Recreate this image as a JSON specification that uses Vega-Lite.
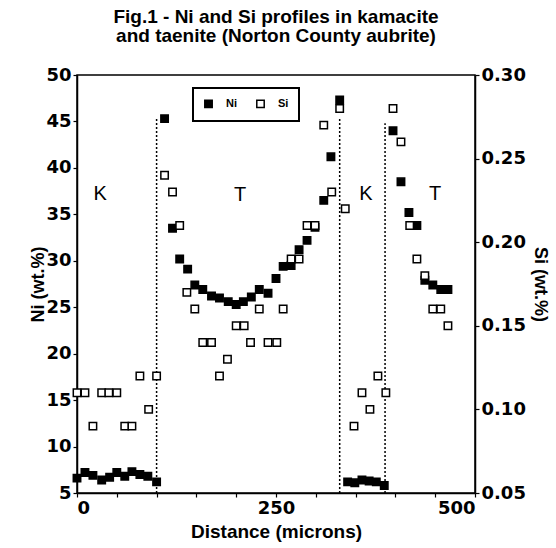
{
  "$schema": "https://vega.github.io/schema/vega-lite/v6.json",
  "width": 398,
  "height": 418,
  "autosize": "none",
  "padding": {"left": 77, "top": 75, "right": 81, "bottom": 55},
  "background": "white",
  "title": {
    "text": ["Fig.1 -  Ni and Si profiles in kamacite", "and taenite (Norton County aubrite)"],
    "font": "Liberation Sans",
    "fontSize": 19,
    "fontWeight": "bold",
    "anchor": "middle",
    "lineHeight": 19,
    "offset": 20,
    "color": "black"
  },
  "config": {
    "view": {"stroke": "black", "strokeWidth": 1.5},
    "axis": {
      "grid": false,
      "domainColor": "black",
      "domainWidth": 1.5,
      "tickColor": "black",
      "tickWidth": 1.2,
      "tickSize": 4,
      "labelFont": "DejaVu Sans",
      "labelFontWeight": "bold",
      "labelFontSize": 18,
      "labelColor": "black",
      "titleFont": "Liberation Sans",
      "titleFontWeight": "bold",
      "titleFontSize": 18,
      "titleColor": "black"
    },
    "legend": {
      "strokeColor": "black",
      "strokeWidth": 2,
      "fillColor": "white",
      "padding": 10,
      "labelFont": "Liberation Sans",
      "labelFontWeight": "bold",
      "labelFontSize": 11,
      "labelColor": "black",
      "symbolType": "square",
      "symbolSize": 55,
      "symbolStrokeColor": "black",
      "symbolStrokeWidth": 1.5,
      "labelOffset": 12,
      "columnPadding": 16
    }
  },
  "datasets": {
    "pts": [
      {"d": 0, "el": "Ni", "v": 6.6}, {"d": 10, "el": "Ni", "v": 7.2}, {"d": 20, "el": "Ni", "v": 6.9},
      {"d": 31, "el": "Ni", "v": 6.4}, {"d": 41, "el": "Ni", "v": 6.7}, {"d": 50, "el": "Ni", "v": 7.2},
      {"d": 60, "el": "Ni", "v": 6.8}, {"d": 69, "el": "Ni", "v": 7.3}, {"d": 79, "el": "Ni", "v": 7.0},
      {"d": 89, "el": "Ni", "v": 6.8}, {"d": 100, "el": "Ni", "v": 6.2},
      {"d": 110, "el": "Ni", "v": 45.3}, {"d": 120, "el": "Ni", "v": 33.5}, {"d": 129, "el": "Ni", "v": 30.2},
      {"d": 139, "el": "Ni", "v": 29.1}, {"d": 148, "el": "Ni", "v": 27.4}, {"d": 158, "el": "Ni", "v": 26.9},
      {"d": 169, "el": "Ni", "v": 26.2}, {"d": 179, "el": "Ni", "v": 26.0}, {"d": 190, "el": "Ni", "v": 25.6},
      {"d": 200, "el": "Ni", "v": 25.3}, {"d": 209, "el": "Ni", "v": 25.6}, {"d": 219, "el": "Ni", "v": 26.1},
      {"d": 229, "el": "Ni", "v": 26.9}, {"d": 240, "el": "Ni", "v": 26.5}, {"d": 250, "el": "Ni", "v": 28.1},
      {"d": 259, "el": "Ni", "v": 29.4}, {"d": 269, "el": "Ni", "v": 29.5}, {"d": 279, "el": "Ni", "v": 31.2},
      {"d": 289, "el": "Ni", "v": 32.2}, {"d": 299, "el": "Ni", "v": 33.6}, {"d": 310, "el": "Ni", "v": 36.5},
      {"d": 319, "el": "Ni", "v": 41.2}, {"d": 330, "el": "Ni", "v": 47.3},
      {"d": 340, "el": "Ni", "v": 6.2}, {"d": 349, "el": "Ni", "v": 6.1}, {"d": 358, "el": "Ni", "v": 6.4},
      {"d": 367, "el": "Ni", "v": 6.3}, {"d": 376, "el": "Ni", "v": 6.2}, {"d": 386, "el": "Ni", "v": 5.8},
      {"d": 397, "el": "Ni", "v": 44.0}, {"d": 407, "el": "Ni", "v": 38.5}, {"d": 417, "el": "Ni", "v": 35.2},
      {"d": 427, "el": "Ni", "v": 33.8}, {"d": 437, "el": "Ni", "v": 27.9}, {"d": 447, "el": "Ni", "v": 27.4},
      {"d": 457, "el": "Ni", "v": 26.9}, {"d": 466, "el": "Ni", "v": 26.9},
      {"d": 0, "el": "Si", "v": 0.11}, {"d": 10, "el": "Si", "v": 0.11}, {"d": 20, "el": "Si", "v": 0.09},
      {"d": 31, "el": "Si", "v": 0.11}, {"d": 40, "el": "Si", "v": 0.11}, {"d": 50, "el": "Si", "v": 0.11},
      {"d": 60, "el": "Si", "v": 0.09}, {"d": 69, "el": "Si", "v": 0.09}, {"d": 79, "el": "Si", "v": 0.12},
      {"d": 90, "el": "Si", "v": 0.10}, {"d": 100, "el": "Si", "v": 0.12},
      {"d": 110, "el": "Si", "v": 0.24}, {"d": 120, "el": "Si", "v": 0.23}, {"d": 129, "el": "Si", "v": 0.21},
      {"d": 138, "el": "Si", "v": 0.17}, {"d": 148, "el": "Si", "v": 0.16}, {"d": 158, "el": "Si", "v": 0.14},
      {"d": 169, "el": "Si", "v": 0.14}, {"d": 179, "el": "Si", "v": 0.12}, {"d": 189, "el": "Si", "v": 0.13},
      {"d": 200, "el": "Si", "v": 0.15}, {"d": 210, "el": "Si", "v": 0.15}, {"d": 218, "el": "Si", "v": 0.14},
      {"d": 229, "el": "Si", "v": 0.16}, {"d": 240, "el": "Si", "v": 0.14}, {"d": 251, "el": "Si", "v": 0.14},
      {"d": 259, "el": "Si", "v": 0.16}, {"d": 269, "el": "Si", "v": 0.19}, {"d": 279, "el": "Si", "v": 0.19},
      {"d": 289, "el": "Si", "v": 0.21}, {"d": 299, "el": "Si", "v": 0.21}, {"d": 310, "el": "Si", "v": 0.27},
      {"d": 320, "el": "Si", "v": 0.23}, {"d": 330, "el": "Si", "v": 0.28}, {"d": 337, "el": "Si", "v": 0.22},
      {"d": 348, "el": "Si", "v": 0.09}, {"d": 358, "el": "Si", "v": 0.11}, {"d": 368, "el": "Si", "v": 0.10},
      {"d": 378, "el": "Si", "v": 0.12}, {"d": 388, "el": "Si", "v": 0.11},
      {"d": 397, "el": "Si", "v": 0.28}, {"d": 407, "el": "Si", "v": 0.26}, {"d": 418, "el": "Si", "v": 0.21},
      {"d": 427, "el": "Si", "v": 0.19}, {"d": 437, "el": "Si", "v": 0.18}, {"d": 447, "el": "Si", "v": 0.16},
      {"d": 457, "el": "Si", "v": 0.16}, {"d": 466, "el": "Si", "v": 0.15}
    ],
    "bounds": [
      {"d": 100, "v": 5, "top": 45.3},
      {"d": 330, "v": 5, "top": 45.3},
      {"d": 387, "v": 5, "top": 44.8}
    ],
    "zones": [
      {"d": 29, "v": 37.2, "label": "K"},
      {"d": 205, "v": 37.1, "label": "T"},
      {"d": 363, "v": 37.2, "label": "K"},
      {"d": 450, "v": 37.2, "label": "T"}
    ]
  },
  "encoding": {
    "x": {
      "field": "d",
      "type": "quantitative",
      "scale": {"domain": [0, 500], "nice": false, "zero": false},
      "axis": {
        "title": "Distance (microns)",
        "titleFontSize": 19,
        "values": [0, 50, 100, 150, 200, 250, 300, 350, 400, 450, 500],
        "labelExpr": "datum.value % 250 == 0 ? datum.label : ''",
        "format": "d",
        "labelPadding": 2,
        "titlePadding": 5
      }
    }
  },
  "layer": [
    {
      "encoding": {
        "y": {
          "field": "v",
          "type": "quantitative",
          "scale": {"domain": [5, 50], "nice": false, "zero": false},
          "axis": {
            "title": "Ni (wt.%)",
            "orient": "left",
            "values": [5, 10, 15, 20, 25, 30, 35, 40, 45, 50],
            "labelPadding": 2,
            "titlePadding": -2
          }
        }
      },
      "layer": [
        {
          "data": {"name": "bounds"},
          "mark": {"type": "rule", "color": "black", "strokeWidth": 1.5, "strokeDash": [2, 2]},
          "encoding": {"y2": {"field": "top"}}
        },
        {
          "data": {"name": "pts"},
          "transform": [{"filter": "datum.el == 'Ni'"}],
          "mark": {"type": "point", "shape": "square", "filled": true, "size": 55, "stroke": "black", "strokeWidth": 1.5, "opacity": 1},
          "encoding": {
            "fill": {
              "field": "el",
              "type": "nominal",
              "scale": {"domain": ["Ni", "Si"], "range": ["black", "white"]},
              "legend": {"title": null, "orient": "none", "legendX": 116, "legendY": 13, "direction": "horizontal"}
            }
          }
        },
        {
          "data": {"name": "zones"},
          "mark": {"type": "text", "font": "Liberation Sans", "fontSize": 20, "color": "black", "baseline": "middle", "align": "center"},
          "encoding": {"text": {"field": "label"}}
        }
      ]
    },
    {
      "data": {"name": "pts"},
      "transform": [{"filter": "datum.el == 'Si'"}],
      "mark": {"type": "point", "shape": "square", "filled": true, "size": 55, "stroke": "black", "strokeWidth": 1.5, "opacity": 1},
      "encoding": {
        "y": {
          "field": "v",
          "type": "quantitative",
          "scale": {"domain": [0.05, 0.3], "nice": false, "zero": false},
          "axis": {
            "title": "Si (wt.%)",
            "orient": "right",
            "values": [0.05, 0.1, 0.15, 0.2, 0.25, 0.3],
            "format": ".2f",
            "labelPadding": 2,
            "titlePadding": 5
          }
        },
        "fill": {
          "field": "el",
          "type": "nominal",
          "scale": {"domain": ["Ni", "Si"], "range": ["black", "white"]},
          "legend": {"title": null, "orient": "none", "legendX": 116, "legendY": 13, "direction": "horizontal"}
        }
      }
    }
  ],
  "resolve": {"scale": {"y": "independent"}}
}
